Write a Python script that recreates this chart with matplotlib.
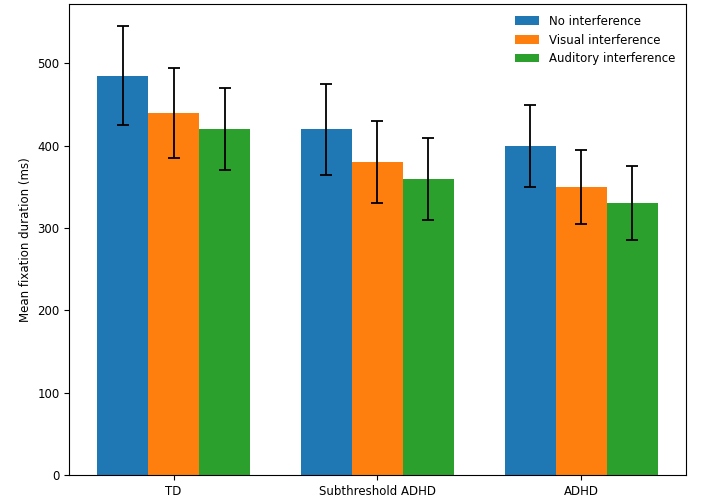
import matplotlib.pyplot as plt
import numpy as np

groups = ["TD", "Subthreshold ADHD", "ADHD"]
conditions = ["No interference", "Visual interference", "Auditory interference"]
means_none = [485, 420, 400]
means_visual = [440, 380, 350]
means_auditory = [420, 360, 330]
err_none = [60, 55, 50]
err_visual = [55, 50, 45]
err_auditory = [50, 50, 45]

plt.rcParams['font.size'] = 8.5

fig, ax = plt.subplots(figsize=(7.06, 4.97), dpi=100)
x = np.arange(len(groups))
width = 0.25
err_style = dict(elinewidth=1.3, capthick=1.3)

ax.bar(x - width, means_none, width, yerr=err_none, capsize=4, error_kw=err_style, label=conditions[0])
ax.bar(x, means_visual, width, yerr=err_visual, capsize=4, error_kw=err_style, label=conditions[1])
ax.bar(x + width, means_auditory, width, yerr=err_auditory, capsize=4, error_kw=err_style, label=conditions[2])

ax.set_xticks(x)
ax.set_xticklabels(groups)
ax.set_ylabel("Mean fixation duration (ms)")
ax.legend(frameon=False, loc="upper right")

plt.subplots_adjust(left=0.098, right=0.971, top=0.992, bottom=0.044)
plt.savefig("out.png")
